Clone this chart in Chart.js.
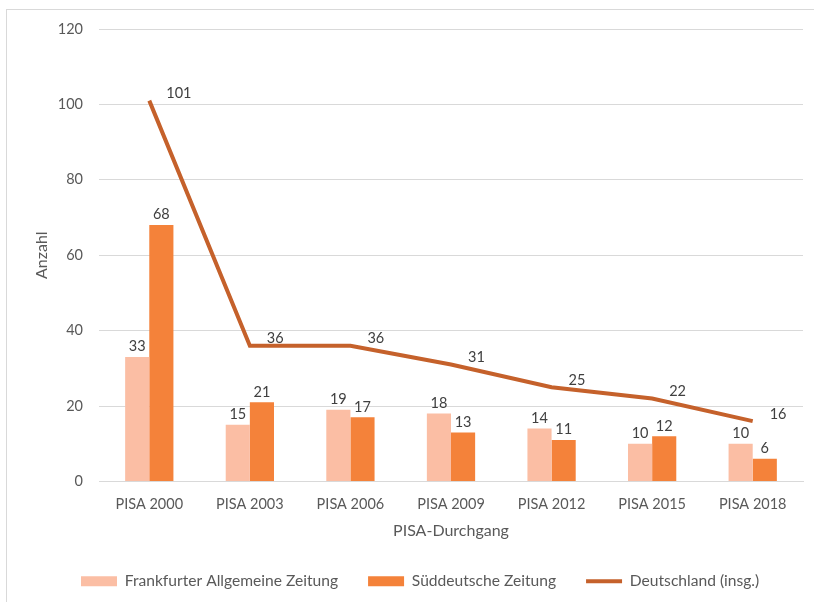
<!DOCTYPE html>
<html>
<head>
<meta charset="utf-8">
<script src="https://cdn.jsdelivr.net/npm/chart.js@4"></script>
<style>
  body { margin: 0; background: #fff; }
  #wrap { width: 814px; height: 602px; }
</style>
</head>
<body>
<div id="wrap"><canvas id="grafico" width="814" height="602"></canvas></div>
<script>
// Daten
const kategorien = ["PISA 2000", "PISA 2003", "PISA 2006", "PISA 2009", "PISA 2012", "PISA 2015", "PISA 2018"];
const faz = [33, 15, 19, 18, 14, 10, 10];
const sz = [68, 21, 17, 13, 11, 12, 6];
const deutschland = [101, 36, 36, 31, 25, 22, 16];
const yTicks = [0, 20, 40, 60, 80, 100, 120];

const schrift = "Lato, 'Open Sans', sans-serif";
const textFarbe = "#595959";

// Rahmen um das Diagramm
const rahmen = {
    id: "rahmen",
    beforeDraw(chart) {
        const c = chart.ctx;
        c.save();
        c.strokeStyle = "#d9d9d9";
        c.lineWidth = 1;
        c.strokeRect(6.5, 9.5, 900, 900);
        c.restore();
    }
};

// Datenbeschriftungen
const beschriftung = {
    id: "beschriftung",
    afterDatasetsDraw(chart) {
        const c = chart.ctx;
        c.save();
        c.font = "14.5px " + schrift;
        c.fillStyle = "#404040";
        chart.data.datasets.forEach(function (ds, i) {
            const meta = chart.getDatasetMeta(i);
            meta.data.forEach(function (el, j) {
                const wert = ds.data[j];
                if (ds.type === "line") {
                    c.textAlign = "left";
                    c.textBaseline = "middle";
                    c.fillText(wert, el.x + 17, el.y - 7);
                } else {
                    c.textAlign = "center";
                    c.textBaseline = "bottom";
                    c.fillText(wert, el.x, el.y - 3);
                }
            });
        });
        c.restore();
    }
};

// Legende nach links verschieben
const legendePos = {
    id: "legendePos",
    afterLayout(chart) {
        const lg = chart.legend;
        if (lg) {
            lg.left = 81 - lg.options.labels.padding;
        }
    }
};

document.addEventListener("DOMContentLoaded", function () {

    const ctx = document.getElementById("grafico");

    new Chart(ctx, {
        data: {
            labels: kategorien,
            datasets: [
                {
                    type: "line",
                    label: "Deutschland (insg.)",
                    data: deutschland,
                    borderColor: "#c5612b",
                    backgroundColor: "#c5612b",
                    borderWidth: 4,
                    pointRadius: 0,
                    tension: 0,
                    order: 0
                },
                {
                    type: "bar",
                    label: "Frankfurter Allgemeine Zeitung",
                    data: faz,
                    backgroundColor: "#fbbea4",
                    categoryPercentage: 0.48,
                    barPercentage: 1,
                    order: 1
                },
                {
                    type: "bar",
                    label: "Süddeutsche Zeitung",
                    data: sz,
                    backgroundColor: "#f4823a",
                    categoryPercentage: 0.48,
                    barPercentage: 1,
                    order: 1
                }
            ]
        },

        options: {
            responsive: false,
            animation: false,
            layout: {
                padding: { left: 0, right: 11, top: 29, bottom: 3 }
            },

            plugins: {
                legend: {
                    position: "bottom",
                    align: "start",
                    labels: {
                        color: textFarbe,
                        font: { family: schrift, size: 15.6 },
                        usePointStyle: true,
                        pointStyleWidth: 36,
                        boxHeight: 10,
                        padding: 30,
                        sort: function (a, b) {
                            return (a.datasetIndex === 0 ? 9 : a.datasetIndex) - (b.datasetIndex === 0 ? 9 : b.datasetIndex);
                        },
                        generateLabels: function (chart) {
                            const items = Chart.defaults.plugins.legend.labels.generateLabels(chart);
                            items.forEach(function (it) {
                                if (it.datasetIndex === 0) {
                                    it.pointStyle = "line";
                                    it.lineWidth = 4;
                                    it.strokeStyle = "#c5612b";
                                } else {
                                    it.pointStyle = "rect";
                                    it.lineWidth = 0;
                                }
                            });
                            return items;
                        }
                    }
                },
                tooltip: { enabled: false }
            },

            scales: {
                x: {
                    grid: { display: false },
                    border: { color: "#d9d9d9" },
                    ticks: {
                        color: textFarbe,
                        font: { family: schrift, size: 14.5 },
                        padding: 6,
                        maxRotation: 0
                    },
                    title: {
                        display: true,
                        text: "PISA-Durchgang",
                        color: textFarbe,
                        font: { family: schrift, size: 16 },
                        padding: { top: 6, bottom: 3 }
                    },
                    afterFit: function (scale) {
                        scale.height = 62;
                    }
                },

                y: {
                    min: 0,
                    max: 120,
                    afterBuildTicks: function (scale) {
                        scale.ticks = yTicks.map(function (v) { return { value: v }; });
                    },
                    grid: { color: "#d9d9d9", drawTicks: false },
                    border: { display: false },
                    ticks: {
                        color: textFarbe,
                        font: { family: schrift, size: 14.5 },
                        padding: 16
                    },
                    title: {
                        display: true,
                        text: "Anzahl",
                        color: textFarbe,
                        font: { family: schrift, size: 16 },
                        padding: { top: 32, bottom: 0 }
                    },
                    afterFit: function (scale) {
                        scale.width = 99;
                    }
                }
            }
        },

        plugins: [rahmen, beschriftung, legendePos]
    });

});
</script>
</body>
</html>
